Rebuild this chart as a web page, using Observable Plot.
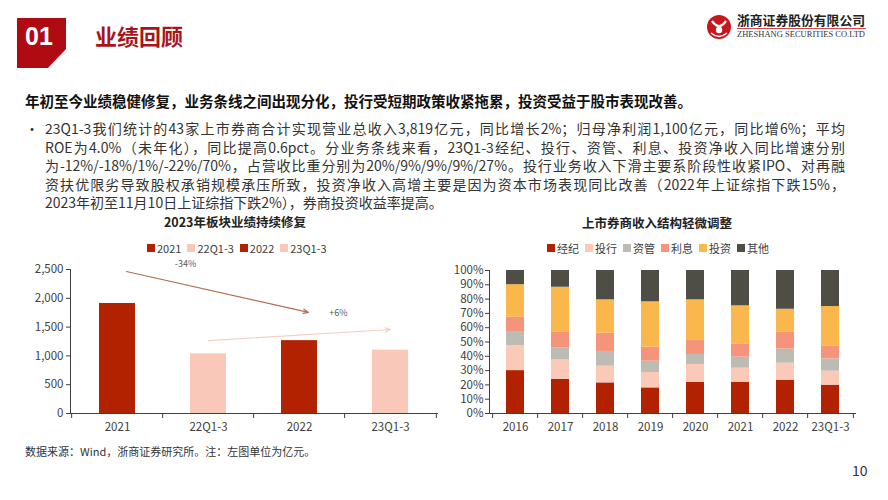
<!DOCTYPE html>
<html><head><meta charset="utf-8">
<script src="https://cdn.jsdelivr.net/npm/d3@7"></script>
<script src="https://cdn.jsdelivr.net/npm/@observablehq/plot@0.6"></script>
<style>
body{margin:0;background:#fff;font-family:"Noto Sans CJK SC","Noto Sans",sans-serif;}
#page{position:relative;width:888px;height:500px;overflow:hidden;background:#fff;}
.abs{position:absolute;white-space:nowrap;}
.line{position:absolute;left:45px;width:800px;font-size:14px;line-height:18px;color:#333;white-space:nowrap;text-align:justify;text-align-last:justify;}
.legend{position:absolute;display:flex;align-items:center;font-size:11px;color:#404040;line-height:14px;white-space:nowrap;}
.legend span.sw{display:inline-block;width:8px;height:8px;margin-right:2px;}
.legend span.item{display:inline-flex;align-items:center;margin:0 3px;}
.ctitle{position:absolute;font-size:12.5px;font-weight:700;color:#222;line-height:16px;transform:translateX(-50%);white-space:nowrap;}
</style></head><body><div id="page">
<svg class="abs" style="left:0;top:0" width="888" height="80">
  <polygon points="17,18 66,18 66,49 48,68 17,68" fill="#b00b12"/>
  <text x="39" y="45" fill="#fff" font-family="Liberation Sans, Arial, sans-serif" font-weight="700" font-size="25" text-anchor="middle">01</text>
  <circle cx="719" cy="27" r="12" fill="#c8161d"/>
  <path d="M712,21 Q719,31 726,21" stroke="#fff" stroke-width="2.2" fill="none"/>
  <circle cx="719" cy="30" r="3.2" fill="#fff"/>
  <path d="M711,33 Q719,40 727,33" stroke="#fff" stroke-width="1.6" fill="none"/>
  <text x="737" y="25" fill="#222" font-family="Noto Sans CJK SC" font-weight="700" font-size="13" textLength="128" lengthAdjust="spacingAndGlyphs">浙商证券股份有限公司</text>
  <line x1="737" x2="866" y1="28.5" y2="28.5" stroke="#c8161d" stroke-width="0.8"/>
  <text x="737" y="37" fill="#333" font-family="Liberation Serif, serif" font-size="7.5" textLength="128" lengthAdjust="spacingAndGlyphs">ZHESHANG SECURITIES CO.LTD</text>
</svg>
<div class="abs" style="left:95px;top:23px;font-size:22px;line-height:24px;font-weight:700;color:#a8141c;">业绩回顾</div>
<div class="abs" style="left:25px;top:92px;font-size:14.5px;line-height:18px;font-weight:700;color:#111;">年初至今业绩稳健修复，业务条线之间出现分化，投行受短期政策收紧拖累，投资受益于股市表现改善。</div>
<div class="abs" style="left:25px;top:119px;font-size:14px;line-height:18px;color:#333;">•</div>
<div id="para"></div>
<div id="ltitle" class="ctitle" style="left:235px;top:214px;"></div>
<div id="rtitle" class="ctitle" style="left:657px;top:215px;"></div>
<div id="chart1" class="abs" style="left:0;top:240px;"></div>
<div id="chart2" class="abs" style="left:440px;top:240px;"></div>
<div id="lleg" class="legend" style="top:241px;"></div>
<div id="rleg" class="legend" style="top:241px;"></div>
<div class="abs" style="left:25px;top:444px;font-size:11px;line-height:14px;color:#333;">数据来源：Wind，浙商证券研究所。注：左图单位为亿元。</div>
<div class="abs" style="left:852px;top:461px;font-size:14px;line-height:18px;color:#333;">10</div>
</div>
<script>
// ---------- text ----------
const paraLines = [
  "23Q1-3我们统计的43家上市券商合计实现营业总收入3,819亿元，同比增长2%；归母净利润1,100亿元，同比增6%；平均",
  "ROE为4.0%（未年化），同比提高0.6pct。分业务条线来看，23Q1-3经纪、投行、资管、利息、投资净收入同比增速分别",
  "为-12%/-18%/1%/-22%/70%，占营收比重分别为20%/9%/9%/9%/27%。投行业务收入下滑主要系阶段性收紧IPO、对再融",
  "资扶优限劣导致股权承销规模承压所致，投资净收入高增主要是因为资本市场表现同比改善（2022年上证综指下跌15%，",
  "2023年初至11月10日上证综指下跌2%），券商投资收益率提高。"
];
const leftTitle = "2023年板块业绩持续修复";
const rightTitle = "上市券商收入结构轻微调整";

// ---------- left chart data ----------
const leftCats = ["2021", "22Q1-3", "2022", "23Q1-3"];
const leftValues = [1910, 1035, 1265, 1100];
const leftColors = ["#b22200", "#f9c8b8", "#b22200", "#f9c8b8"];
const leftTicks = [0, 500, 1000, 1500, 2000, 2500];
const arrowFrom = ["2021", "22Q1-3"];
const arrowFromValue = [2465, 1265];
const arrowTo = ["2022", "23Q1-3"];
const arrowToValue = [1755, 1458];
const arrowColors = ["#b36f58", "#f5cfc3"];
const changeLabels = ["-34%", "+6%"];
const changeLabelCat = ["22Q1-3", "2022"];
const changeLabelValue = [2590, 1736];

// ---------- right chart data ----------
const rightCats = ["2016", "2017", "2018", "2019", "2020", "2021", "2022", "23Q1-3"];
const rightSeries = ["经纪", "投行", "资管", "利息", "投资", "其他"];
const rightColors = ["#b22200", "#fac9b8", "#bcbbb4", "#f6937b", "#fab84c", "#4e4e46"];
const brokerage = [30.0, 23.8, 21.4, 17.9, 21.7, 21.7, 23.1, 19.8];
const investBanking = [17.5, 13.7, 11.7, 10.8, 12.6, 10.0, 12.1, 9.8];
const assetMgmt = [9.3, 8.4, 10.3, 7.9, 7.0, 7.7, 9.8, 8.6];
const interest = [10.5, 11.2, 12.8, 9.8, 9.7, 9.3, 11.8, 9.1];
const investment = [22.8, 31.2, 23.3, 31.7, 28.5, 26.6, 16.1, 27.5];
const others = [9.9, 11.7, 20.5, 21.9, 20.5, 24.7, 27.1, 25.2];
const rightTicks = [0, 10, 20, 30, 40, 50, 60, 70, 80, 90, 100];

// ---------- paragraph ----------
const para = document.getElementById("para");
paraLines.forEach((t, i) => {
  const d = document.createElement("div");
  d.className = "line";
  d.style.top = (119 + i * 18.5) + "px";
  if (i === paraLines.length - 1) d.style.textAlignLast = "left";
  d.textContent = t;
  para.appendChild(d);
});
document.getElementById("ltitle").textContent = leftTitle;
document.getElementById("rtitle").textContent = rightTitle;

function legend(el, names, colors, center) {
  names.forEach((n, i) => {
    const it = document.createElement("span"); it.className = "item";
    const sw = document.createElement("span"); sw.className = "sw"; sw.style.background = colors[i];
    it.appendChild(sw); it.appendChild(document.createTextNode(n));
    el.appendChild(it);
  });
  el.style.left = (center - el.offsetWidth / 2) + "px";
}

const axisFont = {background: "none", fontFamily: "'Noto Sans CJK SC', sans-serif", fontSize: "11.5px", color: "#404040", overflow: "visible"};

// ---------- left chart ----------
const W1 = 445, H1 = 205, ml1 = 70, mr1 = 8;
const step1 = (W1 - ml1 - mr1) / leftCats.length;
const leftData = leftCats.map((c, i) => ({cat: c, value: leftValues[i]}));
const arrowData = arrowFrom.map((c, i) => ({x1: c, y1: arrowFromValue[i], x2: arrowTo[i], y2: arrowToValue[i]}));
const labelData = changeLabels.map((t, i) => ({t, x: changeLabelCat[i], y: changeLabelValue[i]}));
const p1 = Plot.plot({
  width: W1, height: H1, marginLeft: ml1, marginRight: mr1, marginTop: 29, marginBottom: 32,
  style: axisFont,
  x: {domain: leftCats, paddingInner: 0.6, paddingOuter: 0.3, label: null, tickSize: 0, tickPadding: 9, line: true},
  y: {domain: [0, 2500], ticks: leftTicks, tickFormat: d3.format(","), label: null, tickSize: 4, tickPadding: 3, line: true},
  color: {domain: leftCats, range: leftColors},
  marks: [
    Plot.barY(leftData, {x: "cat", y: "value", fill: "cat"}),
    Plot.ruleX(leftCats, {dx: -step1 / 2, y1: 0, y2: 0, insetBottom: -5, stroke: "#404040"}),
    Plot.ruleX([leftCats[leftCats.length - 1]], {dx: step1 / 2, y1: 0, y2: 0, insetBottom: -5, stroke: "#404040"}),
    Plot.arrow([arrowData[0]], {x1: "x1", y1: "y1", x2: "x2", y2: "y2", stroke: arrowColors[0], strokeWidth: 1.2, headLength: 7, headAngle: 45, dx: 9}),
    Plot.arrow([arrowData[1]], {x1: "x1", y1: "y1", x2: "x2", y2: "y2", stroke: arrowColors[1], strokeWidth: 1.2, headLength: 7, headAngle: 45, dx: 0}),
    Plot.text([labelData[0]], {x: "x", y: "y", text: "t", dx: -23, fontSize: 9, fill: "#595959"}),
    Plot.text([labelData[1]], {x: "x", y: "y", text: "t", dx: 39, fontSize: 9, fill: "#595959"})
  ]
});
document.getElementById("chart1").appendChild(p1);

// ---------- right chart ----------
const W2 = 440, H2 = 205, ml2 = 49, mr2 = 25;
const step2 = (W2 - ml2 - mr2) / rightCats.length;
const seriesValues = [brokerage, investBanking, assetMgmt, interest, investment, others];
const rightData = [];
rightCats.forEach((c, j) => rightSeries.forEach((s, k) => rightData.push({cat: c, series: s, value: seriesValues[k][j]})));
const p2 = Plot.plot({
  width: W2, height: H2, marginLeft: ml2, marginRight: mr2, marginTop: 30, marginBottom: 32,
  style: axisFont,
  x: {domain: rightCats, paddingInner: 0.6, paddingOuter: 0.3, label: null, tickSize: 0, tickPadding: 9, line: true},
  y: {domain: [0, 100], ticks: rightTicks, tickFormat: d => d + "%", label: null, tickSize: 4, tickPadding: 2, line: true},
  color: {domain: rightSeries, range: rightColors},
  marks: [
    Plot.barY(rightData, {x: "cat", y: "value", fill: "series"}),
    Plot.ruleX(rightCats, {dx: -step2 / 2, y1: 0, y2: 0, insetBottom: -5, stroke: "#404040"}),
    Plot.ruleX([rightCats[rightCats.length - 1]], {dx: step2 / 2, y1: 0, y2: 0, insetBottom: -5, stroke: "#404040"})
  ]
});
document.getElementById("chart2").appendChild(p2);

legend(document.getElementById("lleg"), leftCats, leftColors, 237);
legend(document.getElementById("rleg"), rightSeries, rightColors, 658);
</script>
</body></html>
